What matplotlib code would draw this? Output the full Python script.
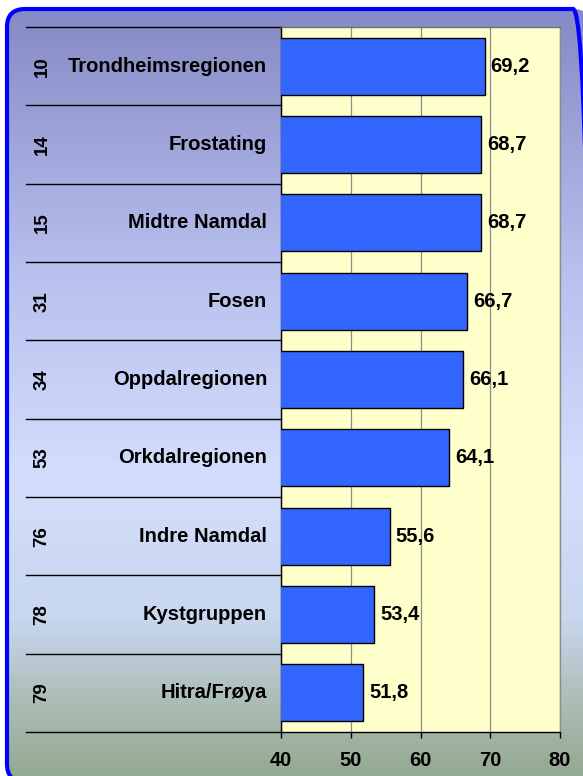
import numpy as np
import matplotlib
matplotlib.use("Agg")
import matplotlib.pyplot as plt
from matplotlib.colors import LinearSegmentedColormap
from matplotlib.patches import FancyBboxPatch
from matplotlib.transforms import blended_transform_factory, IdentityTransform

plt.rcParams['font.family'] = ['Liberation Sans', 'DejaVu Sans']
plt.rcParams['font.weight'] = 'bold'

# data
ranks = [10, 14, 15, 31, 34, 53, 76, 78, 79]
names = ['Trondheimsregionen', 'Frostating', 'Midtre Namdal', 'Fosen',
         'Oppdalregionen', 'Orkdalregionen', 'Indre Namdal', 'Kystgruppen',
         'Hitra/Frøya']
values = [69.2, 68.7, 68.7, 66.7, 66.1, 64.1, 55.6, 53.4, 51.8]
xticks = [40, 50, 60, 70, 80]

W, H = 583, 776
fig = plt.figure(figsize=(W / 100, H / 100), dpi=100)
fig.patch.set_facecolor('white')

# background panel with vertical gradient and rounded blue frame (pixel coords)
bg = fig.add_axes([0, 0, 1, 1])
bg.axis('off')
grad_cmap = LinearSegmentedColormap.from_list('bg', [
    (0.0, '#8488c4'), (0.35, '#b8c0ee'), (0.62, '#d4defc'),
    (0.80, '#c8d6ee'), (0.91, '#abbcb4'), (1.0, '#94aa92')])
grad = np.linspace(0, 1, 256).reshape(-1, 1)
im = bg.imshow(grad, cmap=grad_cmap, aspect='auto', extent=[0, 1, 0, 1],
               interpolation='bilinear')
bg.set_xlim(0, 1)
bg.set_ylim(0, 1)
frame = FancyBboxPatch((7, -6), 584, H - 9 + 6, boxstyle='round,pad=0,rounding_size=18',
                       facecolor='none', edgecolor='#0000ff', linewidth=3,
                       transform=IdentityTransform(), zorder=3)
im.set_clip_path(frame)
bg.add_artist(frame)

# main chart
ax = fig.add_axes([281 / W, 44 / H, 279 / W, 705 / H])
ax.set_facecolor('#ffffcc')
ax.barh(names, values, height=0.73, color='#3366ff', edgecolor='black',
        linewidth=1, zorder=3)
ax.set_xlim(40, 80)
ax.set_ylim(len(names) - 0.5, -0.5)
ax.set_xticks(xticks)
ax.set_xticklabels([str(t) for t in xticks], fontsize=14.5, fontweight='bold')
ax.tick_params(axis='x', direction='out', length=4.5, width=1, color='black', pad=9)
ax.set_yticks([])
ax.set_axisbelow(True)
ax.grid(axis='x', color='#8c8c8c', linewidth=0.9)
ax.spines['left'].set_color('black')
ax.spines['bottom'].set_color('black')
ax.spines['top'].set_color('#707070')
ax.spines['right'].set_color('#8c8c8c')
for s in ax.spines.values():
    s.set_linewidth(1)

for i, v in enumerate(values):
    ax.text(v + 0.85, i, f'{v:.1f}'.replace('.', ','), va='center', ha='left',
            fontsize=14.5, fontweight='bold', zorder=4)

# table on the left
tr = blended_transform_factory(ax.transAxes, ax.transData)
x0 = (26 - 281) / 279
for i in range(len(names) + 1):
    ax.plot([x0, 0], [i - 0.5, i - 0.5], color='black', linewidth=1,
            transform=tr, clip_on=False)
for i, (r, n) in enumerate(zip(ranks, names)):
    ax.text((42 - 281) / 279, i, str(r), rotation=90, ha='center', va='center',
            fontsize=13.5, fontweight='bold', transform=tr)
    ax.text((267 - 281) / 279, i, n, ha='right', va='center',
            fontsize=14.5, fontweight='bold', transform=tr)

fig.savefig('out.png', dpi=100)
